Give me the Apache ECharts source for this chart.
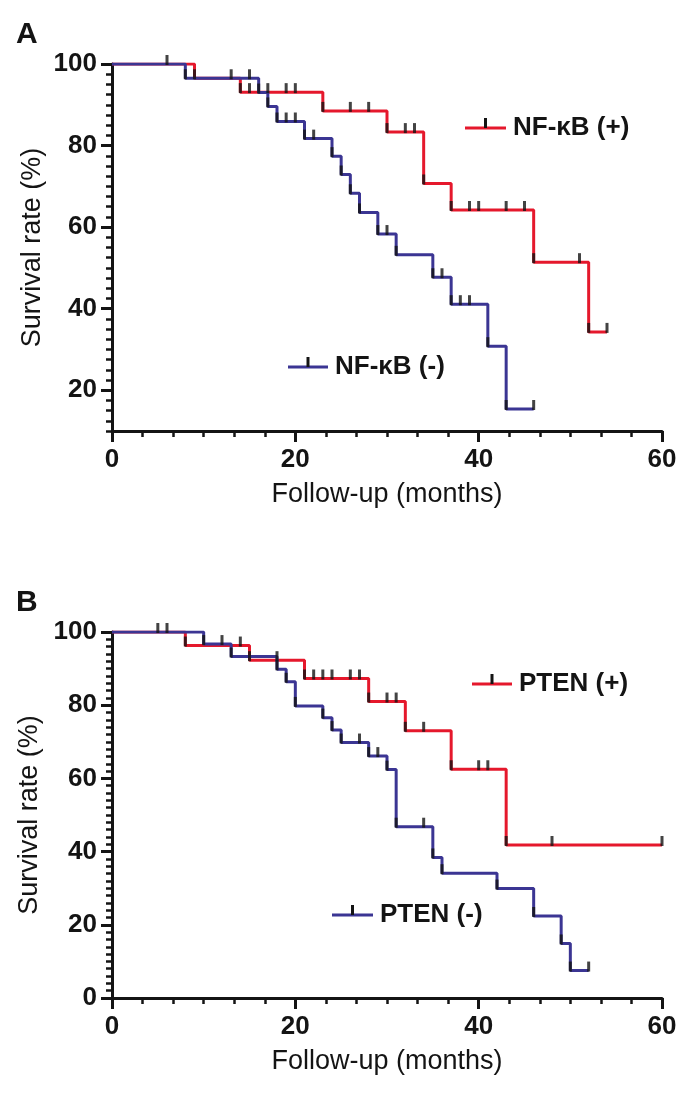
<!DOCTYPE html>
<html>
<head>
<meta charset="utf-8">
<script src="https://cdn.jsdelivr.net/npm/echarts@6/dist/echarts.min.js"></script>
<style>
  html, body { margin: 0; padding: 0; background: #fff; }
  #chart { width: 696px; height: 1096px; }
</style>
</head>
<body>
<div id="chart"></div>
<script>
// ---- tick labels ----
const xTicks = [0, 20, 40, 60];
const yTicksA = [20, 40, 60, 80, 100];
const yTicksB = [0, 20, 40, 60, 80, 100];

// ---- Panel A: NF-κB (+) ----
const aPosEventT = [9, 14, 23, 30, 34, 37, 46, 52];
const aPosEventS = [96.5, 93.1, 88.5, 83.3, 70.7, 64.2, 51.4, 34.3];
const aPosCensT  = [6, 15, 17, 19, 20, 26, 28, 32, 33, 39, 40, 43, 45, 51, 54];
const aPosCensS  = [100, 93.1, 93.1, 93.1, 93.1, 88.5, 88.5, 83.3, 83.3, 64.2, 64.2, 64.2, 64.2, 51.4, 34.3];

// ---- Panel A: NF-κB (-) ----
const aNegEventT = [8, 16, 17, 18, 21, 24, 25, 26, 27, 29, 31, 35, 37, 41, 43];
const aNegEventS = [96.5, 93.0, 89.6, 85.9, 81.7, 77.4, 72.9, 68.3, 63.6, 58.3, 53.2, 47.7, 41.1, 30.8, 15.4];
const aNegCensT  = [13, 15, 19, 20, 22, 30, 36, 38, 39, 46];
const aNegCensS  = [96.5, 96.5, 85.9, 85.9, 81.7, 58.3, 47.7, 41.1, 41.1, 15.4];

// ---- Panel B: PTEN (+) ----
const bPosEventT = [8, 15, 21, 28, 32, 37, 43];
const bPosEventS = [96.3, 92.3, 87.3, 81.0, 73.0, 62.5, 41.8];
const bPosCensT  = [5, 14, 18, 22, 23, 24, 26, 27, 30, 31, 34, 40, 41, 48, 60];
const bPosCensS  = [100, 96.3, 92.3, 87.3, 87.3, 87.3, 87.3, 87.3, 81.0, 81.0, 73.0, 62.5, 62.5, 41.8, 41.8];

// ---- Panel B: PTEN (-) ----
const bNegEventT = [10, 13, 18, 19, 20, 23, 24, 25, 28, 30, 31, 35, 36, 42, 46, 49, 50];
const bNegEventS = [96.7, 93.3, 89.8, 86.4, 79.8, 76.6, 73.2, 69.8, 66.1, 62.4, 46.8, 38.4, 34.1, 29.9, 22.4, 14.9, 7.5];
const bNegCensT  = [6, 12, 27, 29, 34, 52];
const bNegCensS  = [100, 96.7, 69.8, 66.1, 46.8, 7.5];

const RED = '#e5182c';
const BLUE = '#3b3593';
const INK = '#141414';
const FONT = '"Liberation Sans", Arial, Helvetica, sans-serif';

function pairs(t, s) { return t.map((v, i) => [v, s[i]]); }
function stepData(et, es, ct, cs) {
  const pts = [[0, 100]].concat(pairs(et, es), pairs(ct, cs));
  pts.sort((a, b) => a[0] - b[0] || b[1] - a[1]);
  return pts;
}
function markData(et, es, ct, cs) {
  return pairs(et, es).concat(pairs(ct, cs));
}

function curve(name, color, xi, yi, et, es, ct, cs) {
  return [
    {
      name: name, type: 'line', step: 'end', xAxisIndex: xi, yAxisIndex: yi,
      data: stepData(et, es, ct, cs), symbol: 'none',
      lineStyle: { color: color, width: 3 }, z: 2, silent: true
    },
    {
      name: name + ' marks', type: 'scatter', xAxisIndex: xi, yAxisIndex: yi,
      data: markData(et, es, ct, cs), symbol: 'rect', symbolSize: [3, 10],
      symbolOffset: [0, -4], itemStyle: { color: INK }, z: 3, silent: true
    }
  ];
}

function xAxisDef(gi) {
  return {
    type: 'value', gridIndex: gi, min: 0, max: 60, interval: 20, position: 'bottom',
    axisLine: { show: true, lineStyle: { color: INK, width: 3 } },
    axisTick: { show: true, length: 11, lineStyle: { color: INK, width: 3 } },
    minorTick: { show: true, splitNumber: 6, length: 6, lineStyle: { color: INK, width: 2.5 } },
    splitLine: { show: false }, minorSplitLine: { show: false },
    axisLabel: { fontSize: 26, fontWeight: 'bold', color: INK, fontFamily: FONT, margin: 16,
      customValues: xTicks },
    name: 'Follow-up (months)', nameLocation: 'middle', nameGap: 50,
    nameTextStyle: { fontSize: 27, color: INK, fontFamily: FONT }
  };
}

function legendItem(x1, x2, y, color, label) {
  const mid = (x1 + x2) / 2;
  return [
    { type: 'line', shape: { x1: x1, y1: y, x2: x2, y2: y }, style: { stroke: color, lineWidth: 3 } },
    { type: 'line', shape: { x1: mid, y1: y, x2: mid, y2: y - 10 }, style: { stroke: INK, lineWidth: 3 } },
    { type: 'text', x: x2 + 7, y: y, style: { text: label, fontSize: 26, fontWeight: 'bold', fill: INK,
      fontFamily: FONT, verticalAlign: 'middle', align: 'left' } }
  ];
}

const chart = echarts.init(document.getElementById('chart'), null, { renderer: 'canvas' });
const option = {
  animation: false,
  backgroundColor: '#ffffff',
  grid: [
    { left: 112, top: 64, width: 550, height: 367, outerBoundsMode: 'none' },
    { left: 112, top: 632, width: 550, height: 366, outerBoundsMode: 'none' }
  ],
  xAxis: [xAxisDef(0), xAxisDef(1)],
  yAxis: [
    {
      type: 'value', gridIndex: 0, min: 10, max: 100, interval: 2.5, position: 'left',
      axisLine: { show: true, lineStyle: { color: INK, width: 3 } },
      axisTick: { show: true, length: 6, lineStyle: { color: INK, width: 2.5 } },
      axisLabel: { show: false }, splitLine: { show: false },
      name: 'Survival rate (%)', nameLocation: 'middle', nameGap: 66,
      nameTextStyle: { fontSize: 27, color: INK, fontFamily: FONT }
    },
    {
      type: 'value', gridIndex: 0, min: 10, max: 100, interval: 2.5, position: 'left', offset: 0,
      axisLine: { show: false },
      axisTick: { show: true, length: 11, customValues: yTicksA, lineStyle: { color: INK, width: 3 } },
      axisLabel: { fontSize: 26, fontWeight: 'bold', color: INK, fontFamily: FONT, margin: 15,
        customValues: yTicksA },
      splitLine: { show: false }
    },
    {
      type: 'value', gridIndex: 1, min: 0, max: 100, interval: 20, position: 'left',
      axisLine: { show: true, lineStyle: { color: INK, width: 3 } },
      axisTick: { show: true, length: 11, lineStyle: { color: INK, width: 3 } },
      minorTick: { show: true, splitNumber: 10, length: 6, lineStyle: { color: INK, width: 2.5 } },
      axisLabel: { fontSize: 26, fontWeight: 'bold', color: INK, fontFamily: FONT, margin: 15,
        customValues: yTicksB },
      splitLine: { show: false }, minorSplitLine: { show: false },
      name: 'Survival rate (%)', nameLocation: 'middle', nameGap: 66,
      nameTextStyle: { fontSize: 27, color: INK, fontFamily: FONT }
    }
  ],
  series: [].concat(
    curve('NF-κB (+)', RED, 0, 0, aPosEventT, aPosEventS, aPosCensT, aPosCensS),
    curve('NF-κB (-)', BLUE, 0, 0, aNegEventT, aNegEventS, aNegCensT, aNegCensS),
    curve('PTEN (+)', RED, 1, 2, bPosEventT, bPosEventS, bPosCensT, bPosCensS),
    curve('PTEN (-)', BLUE, 1, 2, bNegEventT, bNegEventS, bNegCensT, bNegCensS)
  ),
  graphic: [].concat(
    [
      { type: 'text', x: 16, y: 20, style: { text: 'A', fontSize: 30, fontWeight: 'bold', fill: INK, fontFamily: FONT } },
      { type: 'text', x: 16, y: 588, style: { text: 'B', fontSize: 30, fontWeight: 'bold', fill: INK, fontFamily: FONT } }
    ],
    legendItem(465, 506, 128, RED, 'NF-κB (+)'),
    legendItem(288, 328, 367, BLUE, 'NF-κB (-)'),
    legendItem(472, 512, 684, RED, 'PTEN (+)'),
    legendItem(332, 373, 915, BLUE, 'PTEN (-)')
  )
};
chart.setOption(option);
</script>
</body>
</html>
